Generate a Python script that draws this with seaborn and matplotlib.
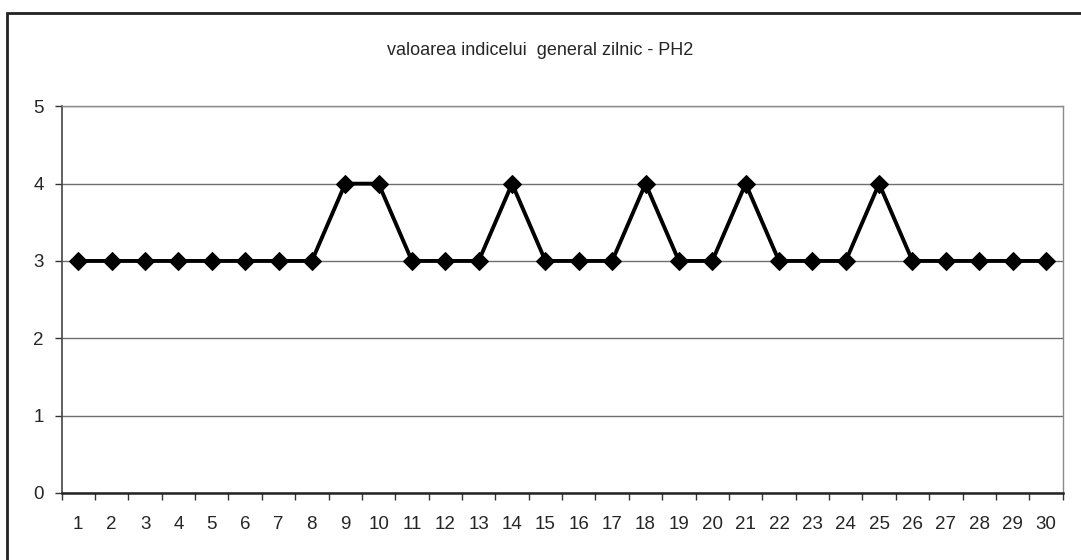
import numpy as np
import pandas as pd
import matplotlib
matplotlib.use("Agg")
import matplotlib.pyplot as plt
import seaborn as sns
from matplotlib.patches import Rectangle

# daily general index values - PH2
zile = list(range(1, 31))
valori = [3, 3, 3, 3, 3, 3, 3, 3, 4, 4,
          3, 3, 3, 4, 3, 3, 3, 4, 3, 3,
          4, 3, 3, 3, 4, 3, 3, 3, 3, 3]
y_ticks = [0, 1, 2, 3, 4, 5]
titlu = "valoarea indicelui  general zilnic - PH2"

sns.set_style("white")
plt.rcParams['font.family'] = ['Liberation Sans', 'DejaVu Sans']

df = pd.DataFrame({"zi": zile, "valoare": valori})

fig = plt.figure(figsize=(10.81, 5.6), dpi=100)
ax = fig.add_axes([0.057, 0.12, 0.926, 0.69])

sns.lineplot(data=df, x="zi", y="valoare", ax=ax, color="black",
             linewidth=2.8, marker="D", markersize=9,
             markeredgecolor="black", markerfacecolor="black")

ax.set_xlim(0.5, 30.5)
ax.set_ylim(0, 5)
ax.set_yticks(y_ticks)
ax.set_xticks(zile)
ax.set_xticklabels([str(z) for z in zile])
ax.set_xticks(np.arange(0.5, 31, 1), minor=True)
ax.tick_params(axis="x", which="major", length=0, labelsize=13.5, pad=17)
ax.tick_params(axis="x", which="minor", length=5, width=1, color="#333333",
               direction="out", bottom=True)
ax.tick_params(axis="y", which="major", length=5, width=1, color="#333333",
               direction="out", left=True, labelsize=13.5, pad=8)
ax.set_xlabel("")
ax.set_ylabel("")

ax.grid(axis="y", color="#6e6e6e", linewidth=1)
ax.set_axisbelow(True)
for side in ["top", "right"]:
    ax.spines[side].set_color("#8a8a8a")
    ax.spines[side].set_linewidth(1)
ax.spines["left"].set_color("#444444")
ax.spines["left"].set_linewidth(1.2)
ax.spines["bottom"].set_color("#222222")
ax.spines["bottom"].set_linewidth(1.8)

fig.text(0.5, 0.91, titlu, ha="center", va="center", fontsize=13)

# chart frame
fig.patches.append(Rectangle((7 / 1081, -0.02), 1.1, 1 - 13 / 560 + 0.02,
                             transform=fig.transFigure, fill=False,
                             edgecolor="#222222", linewidth=2))

fig.savefig("out.png", dpi=100)
